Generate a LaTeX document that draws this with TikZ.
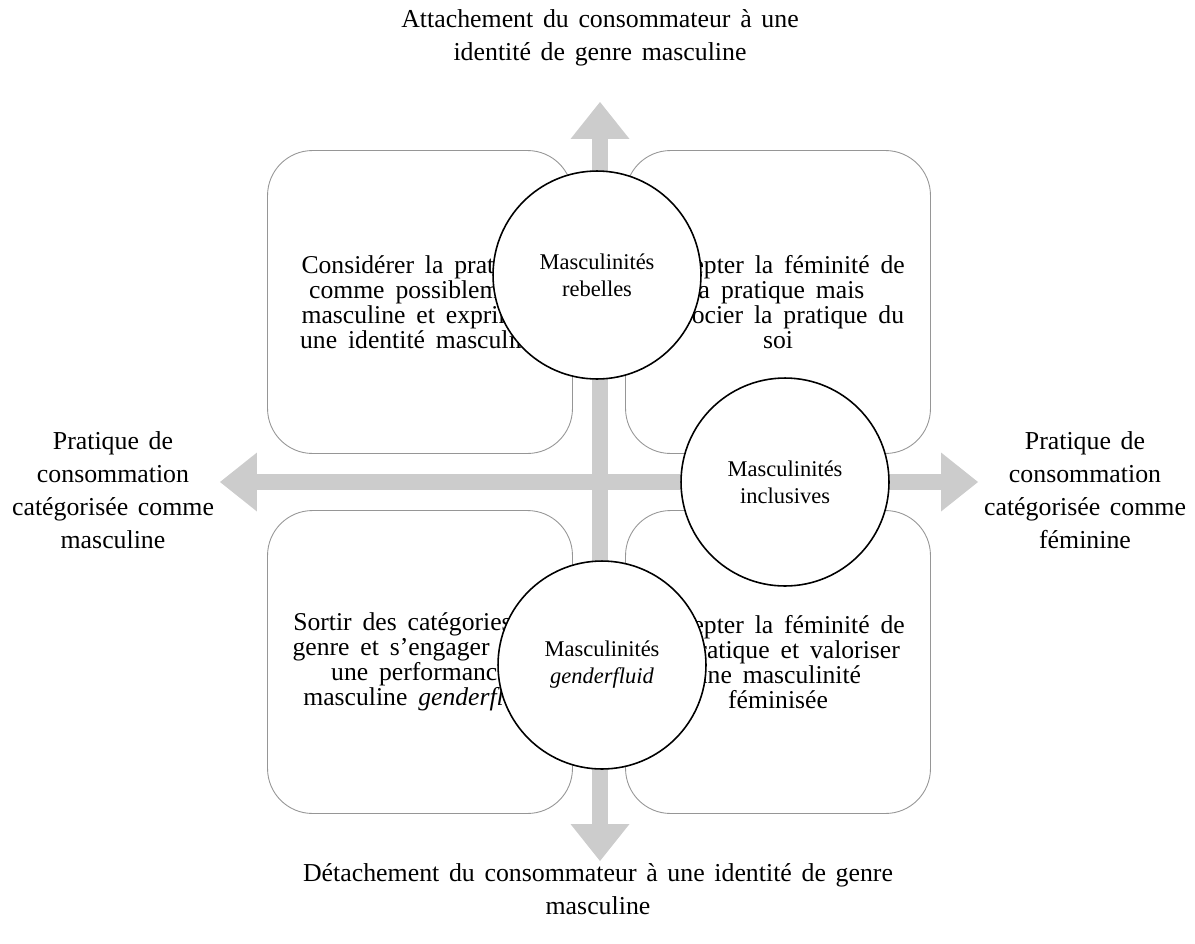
\documentclass[tikz,border=0pt]{standalone}
\usepackage{fontspec}
\setmainfont{Liberation Serif}[WordSpace=1.5]
\newfontfamily\quadfont{Liberation Serif}[WordSpace=1.7]
\usepackage{tikz}
\usetikzlibrary{arrows.meta,shapes,positioning}
\usepackage{xcolor}
\definecolor{axgray}{RGB}{204,204,204}
\definecolor{boxgray}{RGB}{150,150,150}
\tikzstyle{quadbox} = [rectangle, rounded corners=0.9cm, minimum width=6.1cm, minimum height=6.06cm, align=center, draw=boxgray, fill=white, line width=0.5pt, font=\quadfont\fontsize{14.6}{14.3}\selectfont]
\tikzstyle{massbox} = [circle, minimum size=4.16cm, inner sep=0pt, align=center, draw=black, fill=white, line width=0.9pt, font=\fontsize{12.8}{15.3}\selectfont]
\tikzstyle{axislabel} = [align=center, font=\fontsize{14.7}{18.7}\selectfont]
\tikzstyle{axisarrow} = [draw=axgray, line width=0.32cm, {Triangle[length=0.74cm, width=1.18cm, line width=0pt]}-{Triangle[length=0.74cm, width=1.18cm, line width=0pt]}]

\begin{document}
\begin{tikzpicture}[x=0.02cm, y=-0.02cm]
\useasboundingbox (0,0) rectangle (1195,943);

% Axes
\coordinate (north) at (600,102);
\coordinate (south) at (600,861);
\coordinate (west) at (220,482);
\coordinate (east) at (978,482);
\draw[axisarrow] (south) -- (north);
\draw[axisarrow] (west) -- (east);

% Axis labels
\node[axislabel] (lbltop) at (600,38) {Attachement du consommateur à une\\identité de genre masculine};
\node[axislabel] (lblbottom) at (598,889) {Détachement du consommateur à une identité de genre\\masculine};
\node[axislabel] (lblleft) at (113,490) {Pratique de\\consommation\\catégorisée comme\\masculine};
\node[axislabel] (lblright) at (1085,490) {Pratique de\\consommation\\catégorisée comme\\féminine};

% Quadrants
\node[quadbox] (qtl) at (420,302) {Considérer la pratique\\comme possiblement\\masculine et exprimer\\une identité masculine};
\node[quadbox] (qtr) at (778,302) {Accepter la féminité de\\la pratique mais\\dissocier la pratique du\\soi};
\node[quadbox] (qbl) at (420,662) {Sortir des catégories de\\genre et s’engager dans\\une performance\\masculine \textit{genderfluid}};
\node[quadbox] (qbr) at (778,662) {Accepter la féminité de\\la pratique et valoriser\\une masculinité\\féminisée};

% Masculinities
\node[massbox] (rebel) at (597,275) {Masculinités\\rebelles};
\node[massbox] (incl) at (785,482) {Masculinités\\inclusives};
\node[massbox] (fluid) at (602,665) {Masculinités\\\textit{genderfluid}};
\end{tikzpicture}
\end{document}
